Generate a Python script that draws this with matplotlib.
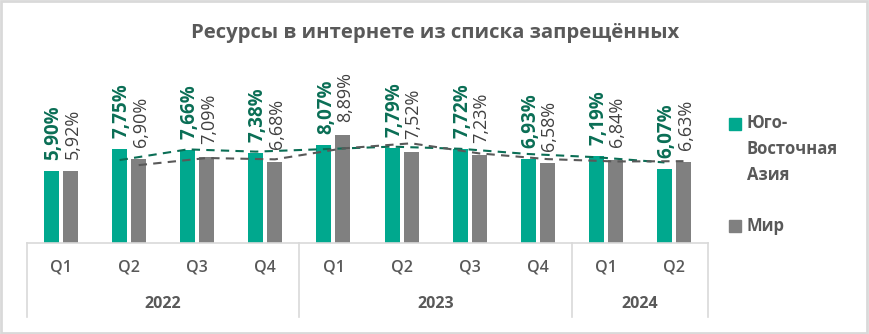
import numpy as np
import matplotlib
matplotlib.use("Agg")
import matplotlib.pyplot as plt
from matplotlib.patches import Rectangle
from matplotlib.transforms import blended_transform_factory


QUARTERS = ["Q1", "Q2", "Q3", "Q4", "Q1", "Q2", "Q3", "Q4", "Q1", "Q2"]
YEARS = ["2022", "2023", "2024"]
YEAR_SIZES = [4, 4, 2]
SEA = [5.90, 7.75, 7.66, 7.38, 8.07, 7.79, 7.72, 6.93, 7.19, 6.07]
WORLD = [5.92, 6.90, 7.09, 6.68, 8.89, 7.52, 7.23, 6.58, 6.84, 6.63]

GREEN = "#00A88E"
GRAY = "#808080"
DARK_GREEN = "#0A6E55"
DARK_GRAY = "#595959"
TEXT = "#595959"
LINE = "#D9D9D9"
FONT = ["Open Sans", "DejaVu Sans"]


def moving_avg(vals, n=2):
    vals = np.asarray(vals)
    return np.convolve(vals, np.ones(n) / n, mode="valid")


def main():
    plt.rcParams["font.family"] = FONT
    W, H = 869, 334
    fig = plt.figure(figsize=(W / 100, H / 100), dpi=100)

    # plot area in pixels: x 27..708, y 60..243 (from top)
    ax = fig.add_axes([27 / W, (H - 243) / H, 681 / W, 183 / H])
    px_per_unit = 12.15
    ax.set_ylim(0, 183 / px_per_unit)
    n = len(SEA)
    ax.set_xlim(-0.5, n - 0.5)

    x = np.arange(n)
    off = 0.14
    w = 0.22
    ax.bar(x - off, SEA, width=w, color=GREEN, zorder=2)
    ax.bar(x + off, WORLD, width=w, color=GRAY, zorder=2)

    for xi, v in zip(x, SEA):
        ax.annotate(f"{v:.2f}%".replace(".", ","), (xi - off, v), xytext=(1.5, 8),
                    textcoords="offset points", rotation=90, ha="center", va="bottom",
                    fontsize=13.5, fontweight="bold", color=DARK_GREEN, annotation_clip=False)
    for xi, v in zip(x, WORLD):
        ax.annotate(f"{v:.2f}%".replace(".", ","), (xi + off, v), xytext=(1.5, 9),
                    textcoords="offset points", rotation=90, ha="center", va="bottom",
                    fontsize=13, color="#404040", annotation_clip=False)

    # 2-period moving average trendlines
    ax.plot(x[1:] - off, moving_avg(SEA), color=DARK_GREEN, lw=1.5,
            linestyle=(0, (4, 3)), zorder=3)
    ax.plot(x[1:] + off, moving_avg(WORLD), color=DARK_GRAY, lw=1.5,
            linestyle=(0, (4, 3)), zorder=3)

    for s in ["top", "right", "left"]:
        ax.spines[s].set_visible(False)
    ax.spines["bottom"].set_color(LINE)
    ax.spines["bottom"].set_linewidth(1.2)
    ax.set_yticks([])
    ax.set_xticks([])

    # multi-level category axis
    trans = blended_transform_factory(ax.transData, ax.transAxes)
    bottom = -(317 - 243) / 183
    edges = np.cumsum([0] + YEAR_SIZES) - 0.5
    for e in edges:
        ax.plot([e, e], [0, bottom], color=LINE, lw=1.2, transform=trans, clip_on=False)
    for xi, q in zip(x, QUARTERS):
        ax.text(xi, -25 / 183, q, transform=trans, ha="center", va="center",
                fontsize=11.5, fontweight="semibold", color=TEXT)
    for i, yr in enumerate(YEARS):
        cx = (edges[i] + edges[i + 1]) / 2
        ax.text(cx, -61 / 183, yr, transform=trans, ha="center", va="center",
                fontsize=11.5, fontweight="bold", color=TEXT)

    fig.text(435 / W, 1 - 33 / H, "Ресурсы в интернете из списка запрещённых",
             ha="center", va="center", fontsize=14.6, fontweight="bold", color=TEXT)

    # legend
    fig.patches.append(Rectangle((729 / W, 1 - 130 / H), 12 / W, 12 / H,
                                 transform=fig.transFigure, color=GREEN))
    fig.patches.append(Rectangle((729 / W, 1 - 232 / H), 12 / W, 12 / H,
                                 transform=fig.transFigure, color=GRAY))
    for yy, t in [(123, "Юго-"), (149, "Восточная"), (175, "Азия"), (226, "Мир")]:
        fig.text(747 / W, 1 - yy / H, t, ha="left", va="center", fontsize=12,
                 fontweight="bold", color=TEXT)

    fig.patches.append(Rectangle((0.001, 0.002), 0.997, 0.995, transform=fig.transFigure,
                                 fill=False, edgecolor=LINE, lw=2))

    fig.savefig("out.png", dpi=100)
    plt.close(fig)


if __name__ == "__main__":
    main()
